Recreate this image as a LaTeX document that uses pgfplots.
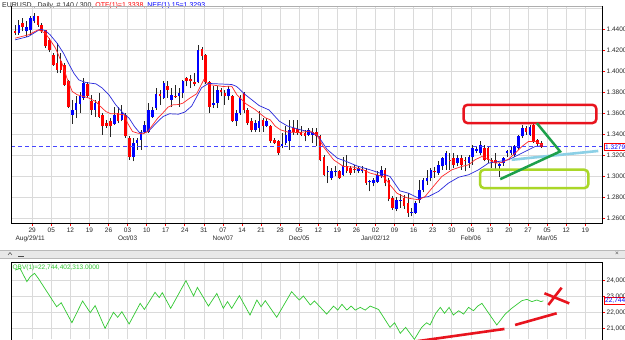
\documentclass[tikz,border=0pt]{standalone}
\usepackage{fontspec}
\setmainfont{Liberation Sans}
\usepackage{pgfplots}
\pgfplotsset{compat=1.18}
\usepackage{pgfplotstable}

\definecolor{candred}{RGB}{255,0,0}
\definecolor{candblue}{RGB}{0,0,255}
\definecolor{mared}{RGB}{255,40,40}
\definecolor{mablue}{RGB}{40,40,220}
\definecolor{gridgray}{RGB}{218,218,218}
\definecolor{lblgray}{RGB}{40,40,40}
\definecolor{dashblue}{RGB}{70,70,255}
\definecolor{annred}{RGB}{232,20,30}
\definecolor{annyg}{RGB}{170,215,40}
\definecolor{anngreen}{RGB}{30,160,75}
\definecolor{annlblue}{RGB}{140,208,230}
\definecolor{obvgreen}{RGB}{50,200,50}

\pgfplotstableread{
i O H L C
-5 1.4387 1.4441 1.4346 1.4368
-4 1.4362 1.4489 1.4346 1.4441
-3 1.4457 1.4505 1.4378 1.4425
-2 1.4378 1.4473 1.4330 1.4425
-1 1.4394 1.4521 1.4346 1.4505
0 1.4473 1.4552 1.4457 1.4527
1 1.4521 1.4527 1.4425 1.4441
2 1.4441 1.4457 1.4362 1.4378
3 1.4394 1.4394 1.4219 1.4235
4 1.4298 1.4314 1.4178 1.4203
5 1.4156 1.4171 1.4051 1.4060
6 1.4076 1.4267 1.3981 1.4013
7 1.4092 1.4171 1.3981 1.4013
8 1.4060 1.4076 1.3860 1.3870
9 1.3902 1.3917 1.3648 1.3663
10 1.3584 1.3727 1.3498 1.3632
11 1.3632 1.3759 1.3552 1.3695
12 1.3689 1.3806 1.3600 1.3759
13 1.3743 1.3933 1.3727 1.3886
14 1.3879 1.3892 1.3743 1.3759
15 1.3711 1.3775 1.3584 1.3632
16 1.3632 1.3727 1.3568 1.3695
17 1.3711 1.3790 1.3552 1.3568
18 1.3584 1.3600 1.3394 1.3473
19 1.3505 1.3537 1.3457 1.3479
20 1.3521 1.3552 1.3371 1.3473
21 1.3498 1.3663 1.3489 1.3584
22 1.3600 1.3663 1.3505 1.3521
23 1.3537 1.3679 1.3521 1.3600
24 1.3584 1.3600 1.3362 1.3378
25 1.3362 1.3378 1.3156 1.3187
26 1.3187 1.3362 1.3140 1.3314
27 1.3314 1.3362 1.3251 1.3346
28 1.3346 1.3441 1.3251 1.3425
29 1.3425 1.3521 1.3410 1.3489
30 1.3425 1.3695 1.3410 1.3632
31 1.3568 1.3663 1.3552 1.3632
32 1.3648 1.3838 1.3632 1.3784
33 1.3784 1.3822 1.3679 1.3759
34 1.3743 1.3902 1.3733 1.3886
35 1.3854 1.3902 1.3743 1.3822
36 1.3727 1.3838 1.3663 1.3775
37 1.3765 1.3870 1.3743 1.3752
38 1.3759 1.3838 1.3663 1.3790
39 1.3790 1.3917 1.3743 1.3902
40 1.3933 1.3949 1.3854 1.3902
41 1.3922 1.3965 1.3838 1.3910
42 1.3892 1.3981 1.3854 1.3879
43 1.3892 1.4251 1.3886 1.4203
44 1.4207 1.4230 1.4110 1.4143
45 1.4150 1.4165 1.3880 1.3900
46 1.3900 1.3910 1.3606 1.3663
47 1.3680 1.3854 1.3648 1.3700
48 1.3695 1.3854 1.3648 1.3822
49 1.3822 1.3838 1.3759 1.3806
50 1.3790 1.3822 1.3679 1.3759
51 1.3759 1.3854 1.3727 1.3829
52 1.3759 1.3775 1.3514 1.3521
53 1.3521 1.3632 1.3479 1.3606
54 1.3606 1.3775 1.3584 1.3743
55 1.3790 1.3806 1.3600 1.3632
56 1.3632 1.3648 1.3489 1.3505
57 1.3521 1.3552 1.3416 1.3441
58 1.3444 1.3537 1.3425 1.3505
59 1.3457 1.3616 1.3425 1.3521
60 1.3537 1.3552 1.3425 1.3479
61 1.3479 1.3552 1.3467 1.3521
62 1.3473 1.3489 1.3314 1.3330
63 1.3346 1.3362 1.3308 1.3314
64 1.3330 1.3346 1.3203 1.3219
65 1.3290 1.3410 1.3267 1.3305
66 1.3314 1.3473 1.3298 1.3394
67 1.3330 1.3537 1.3251 1.3441
68 1.3457 1.3537 1.3394 1.3425
69 1.3447 1.3537 1.3394 1.3410
70 1.3425 1.3473 1.3378 1.3394
71 1.3410 1.3441 1.3330 1.3380
72 1.3394 1.3457 1.3378 1.3441
73 1.3394 1.3457 1.3314 1.3425
74 1.3425 1.3457 1.3283 1.3378
75 1.3378 1.3394 1.3140 1.3156
76 1.3187 1.3203 1.2997 1.3013
77 1.3035 1.3092 1.2933 1.3050
78 1.2981 1.3076 1.2965 1.3045
79 1.3040 1.3092 1.2997 1.3050
80 1.3045 1.3060 1.2972 1.2981
81 1.3013 1.3187 1.2997 1.3092
82 1.3092 1.3203 1.3029 1.3045
83 1.3076 1.3092 1.3013 1.3029
84 1.3070 1.3108 1.3029 1.3060
85 1.3045 1.3098 1.3029 1.3076
86 1.3050 1.3092 1.3029 1.3070
87 1.3060 1.3076 1.2917 1.2933
88 1.2940 1.2965 1.2854 1.2950
89 1.2933 1.2981 1.2902 1.2965
90 1.2949 1.3045 1.2933 1.3013
91 1.2997 1.3092 1.2981 1.3060
92 1.3060 1.3076 1.2902 1.2933
93 1.2965 1.2981 1.2759 1.2781
94 1.2790 1.2810 1.2680 1.2700
95 1.2690 1.2800 1.2665 1.2775
96 1.2760 1.2830 1.2700 1.2775
97 1.2790 1.2820 1.2690 1.2720
98 1.2745 1.2835 1.2615 1.2650
99 1.2650 1.2700 1.2616 1.2660
100 1.2650 1.2760 1.2640 1.2740
101 1.2775 1.2965 1.2743 1.2870
102 1.2870 1.2985 1.2845 1.2965
103 1.2950 1.3060 1.2920 1.2985
104 1.2985 1.3076 1.2950 1.3060
105 1.3045 1.3090 1.2985 1.3035
106 1.3029 1.3140 1.3013 1.3108
107 1.3092 1.3187 1.3060 1.3171
108 1.3108 1.3235 1.3060 1.3219
109 1.3156 1.3219 1.3060 1.3140
110 1.3171 1.3219 1.3080 1.3108
111 1.3124 1.3203 1.3092 1.3171
112 1.3171 1.3203 1.3060 1.3108
113 1.3150 1.3180 1.3045 1.3140
114 1.3124 1.3203 1.3080 1.3187
115 1.3187 1.3298 1.3108 1.3267
116 1.3240 1.3290 1.3220 1.3255
117 1.3219 1.3330 1.3203 1.3298
118 1.3267 1.3298 1.3140 1.3156
119 1.3267 1.3283 1.3124 1.3156
120 1.3150 1.3171 1.3076 1.3130
121 1.3156 1.3219 1.3060 1.3124
122 1.3100 1.3124 1.2990 1.3115
123 1.3124 1.3187 1.3100 1.3171
124 1.3219 1.3251 1.3187 1.3235
125 1.3219 1.3283 1.3200 1.3251
126 1.3203 1.3298 1.3187 1.3283
127 1.3267 1.3394 1.3251 1.3378
128 1.3378 1.3489 1.3362 1.3457
129 1.3460 1.3473 1.3394 1.3420
130 1.3390 1.3490 1.3380 1.3470
131 1.3485 1.3500 1.3320 1.3335
132 1.3340 1.3350 1.3290 1.3310
133 1.3320 1.3335 1.3270 1.3279
}\candles

\newcommand{\tfont}{\fontsize{6.5}{7.5}\selectfont}
\newcommand{\cutlbl}[1]{\makebox[23pt][l]{#1}}

\begin{document}
\begin{tikzpicture}[x=1pt,y=1pt]
\clip (0,0) rectangle (625,340);
\fill[white] (0,0) rectangle (625,340);

% title
\node[anchor=west, inner sep=0, font=\fontsize{7}{8}\selectfont, text=lblgray] at (2,334)
  {EURUSD , Daily, \# 140 / 300, \textcolor{red}{OTF(1)=1.3338,} \textcolor{blue}{NEF(1) 15=1.3293}};

% main price panel
\begin{axis}[
  at={(3,111)}, anchor=south west, scale only axis,
  width=591pt, height=217pt,
  xmin=-5.95, xmax=149.0, ymin=1.25495, ymax=1.46162,
  axis line style={draw=none},
  clip mode=individual,
  xtick={-0.5,4.5,9.5,14.5,19.5,24.5,29.5,34.5,39.5,44.5,49.5,54.5,59.5,64.5,69.5,74.5,79.5,84.5,89.5,94.5,99.5,104.5,109.5,114.5,119.5,124.5,129.5,134.5,139.5,144.5},
  xticklabels={29,05,12,19,26,03,10,17,24,31,07,14,21,28,05,12,19,26,02,09,16,23,30,06,13,20,27,05,12,19},
  ytick={1.26,1.28,1.30,1.32,1.34,1.36,1.38,1.40,1.42,1.44},
  xtick pos=bottom, ytick pos=right, yticklabel pos=right,
  scaled y ticks=false,
  yticklabel style={/pgf/number format/fixed, /pgf/number format/fixed zerofill, /pgf/number format/precision=4, /pgf/number format/assume math mode=true, inner sep=1pt},
  xticklabel style={inner sep=1pt},
  ticklabel style={font=\tfont, text=lblgray},
  tick align=outside, major tick length=3pt,
  tick style={draw=red, line width=0.6pt},
  grid=major, major grid style={draw=gridgray, line width=0.7pt},
]
% extra grid line at 1.46
\addplot[gridgray, line width=0.7pt, forget plot] coordinates {(-5.95,1.46) (149,1.46)};
% wicks
\addplot[draw=none, mark=none, forget plot,
  error bars/.cd, y dir=plus, y explicit, error mark=none,
  error bar style={draw=black!85, line width=0.8pt}]
  table[x=i, y=L, y error plus expr={\thisrow{H}-\thisrow{L}}] {\candles};
% up bodies
\addplot[draw=none, mark=none, forget plot,
  error bars/.cd, y dir=plus, y explicit, error mark=none,
  error bar style={draw=candblue, line width=2.6pt}]
  table[x=i, y=O, y error plus expr={max(\thisrow{C}-\thisrow{O},0)}] {\candles};
% down bodies
\addplot[draw=none, mark=none, forget plot,
  error bars/.cd, y dir=plus, y explicit, error mark=none,
  error bar style={draw=candred, line width=2.6pt}]
  table[x=i, y=C, y error plus expr={max(\thisrow{O}-\thisrow{C},0)}] {\candles};

% NEF (blue MA)
\addplot[mablue, line width=0.7pt] coordinates {
(-5,1.4298) (-1.5,1.4330) (1.6,1.4400) (2.9,1.4387) (4.2,1.4346) (6,1.4267) (7.7,1.4171) (9,1.4076) (10.4,1.3981) (11.7,1.3917) (13.5,1.3892) (16.2,1.3879) (17.9,1.3838) (19.6,1.3775) (21.4,1.3679) (23.2,1.3606) (24.9,1.3552) (26.3,1.3473) (27.6,1.3416) (28.9,1.3410) (30.2,1.3435) (32,1.3505) (33.8,1.3568) (35.5,1.3594) (37.8,1.3590) (39.5,1.3610) (41.3,1.3667) (43.9,1.3842) (45.7,1.3883) (51.8,1.3873) (53.1,1.3854) (55.3,1.3778) (59,1.3672) (61.6,1.3630) (64.3,1.3523) (66.4,1.3478) (69.4,1.3446) (72.8,1.3415) (74.5,1.3380) (76.8,1.3255) (79.5,1.3171) (81.5,1.3145) (84.6,1.3098) (88.1,1.3060) (90.7,1.3029) (93.3,1.2997) (95.9,1.2860) (98.1,1.2838) (100.8,1.2790) (103.4,1.2806) (106,1.2854) (108.6,1.2933) (111.3,1.2990) (113.9,1.3013) (116.5,1.3060) (119.1,1.3124) (121.8,1.3140) (124.4,1.3156) (127,1.3203) (129.6,1.3251) (131.4,1.3283) (133.3,1.3289)};
% OTF (red MA)
\addplot[mared, line width=0.7pt] coordinates {
(-5,1.4314) (-1.5,1.4346) (1.1,1.4394) (2.9,1.4362) (4.2,1.4298) (5.6,1.4219) (7.3,1.4076) (8.6,1.3933) (10,1.3806) (11.3,1.3775) (13,1.3759) (14.4,1.3743) (16.1,1.3711) (17.4,1.3663) (18.8,1.3616) (20.1,1.3594) (21.4,1.3594) (23.6,1.3584) (24.5,1.3505) (25.8,1.3425) (27.1,1.3410) (28.5,1.3403) (29.8,1.3425) (31.1,1.3489) (32.4,1.3552) (33.7,1.3600) (35.1,1.3657) (36.4,1.3679) (37.8,1.3682) (39,1.3695) (40.8,1.3743) (42.6,1.3784) (44.5,1.3920) (45.7,1.3873) (49.6,1.3854) (51.8,1.3857) (53.1,1.3778) (55.5,1.3690) (57.9,1.3635) (59.1,1.3600) (60.6,1.3556) (61.9,1.3537) (63.2,1.3476) (64.6,1.3441) (66.5,1.3420) (69.5,1.3415) (72.4,1.3429) (74.1,1.3394) (75.8,1.3283) (78.5,1.3156) (81.1,1.3092) (83.7,1.3086) (86.3,1.3060) (88.1,1.3029) (89.8,1.3013) (91.6,1.2997) (93.3,1.2917) (95.1,1.2838) (96.8,1.2806) (98.1,1.2790) (100.8,1.2775) (102.5,1.2806) (104.3,1.2886) (106.9,1.2997) (109.5,1.3060) (112.1,1.3092) (113.9,1.3108) (115.6,1.3156) (117.4,1.3187) (119.1,1.3162) (120.9,1.3124) (122.6,1.3130) (124.4,1.3162) (126.1,1.3219) (127.9,1.3283) (129.6,1.3330) (131.4,1.3330) (132.7,1.3308) (133.3,1.3298)};

% current price line
\addplot[dashblue, line width=0.8pt, dash pattern=on 4pt off 3pt] coordinates {(-5.95,1.3279) (149,1.3279)};

% annotations
\draw[annred, line width=2.5pt, rounded corners=4pt] (axis cs:112.6,1.3505) rectangle (axis cs:147.4,1.3680);
\draw[annyg, line width=2.5pt, rounded corners=4pt] (axis cs:116.9,1.2886) rectangle (axis cs:145.3,1.3061);
\addplot[annlblue, line width=2.6pt] coordinates {(125.2,1.3156) (147.9,1.3240)};
\addplot[anngreen, line width=2.5pt] coordinates {(131.8,1.3505) (137.9,1.3235) (122.2,1.2971)};

% frame
\draw[gridgray!80!black, line width=0.6pt] (rel axis cs:0,1) -- (rel axis cs:1,1);
\draw[black, line width=1.1pt] (rel axis cs:0,1) -- (rel axis cs:0,0) -- (rel axis cs:1,0) -- (rel axis cs:1,1);

% price box
\node[draw=red, fill=white, text=blue, font=\tfont, inner sep=1pt, anchor=west, line width=0.6pt] at (axis cs:149.0,1.3279) [xshift=1.5pt] {1.3279};

% month labels
\node[font=\tfont, text=lblgray] at (axis cs:-0.5,1.25495) [yshift=-15pt, xshift=-2pt] {Aug/29/11};
\node[font=\tfont, text=lblgray] at (axis cs:24.5,1.25495) [yshift=-15pt] {Oct/03};
\node[font=\tfont, text=lblgray] at (axis cs:49.5,1.25495) [yshift=-15pt] {Nov/07};
\node[font=\tfont, text=lblgray] at (axis cs:69.5,1.25495) [yshift=-15pt] {Dec/05};
\node[font=\tfont, text=lblgray] at (axis cs:89.5,1.25495) [yshift=-15pt] {Jan/02/12};
\node[font=\tfont, text=lblgray] at (axis cs:114.5,1.25495) [yshift=-15pt] {Feb/06};
\node[font=\tfont, text=lblgray] at (axis cs:134.5,1.25495) [yshift=-15pt] {Mar/05};
\end{axis}

% separator strip
\fill[gray!18] (0,81.5) rectangle (625,90);
\draw[gray!55, line width=0.5pt] (0,90) -- (625,90);
\draw[gray!55, line width=0.5pt] (0,81.5) -- (625,81.5);
\draw[black!70, line width=0.5pt] (8,85) -- (10,87.5) -- (12,85);
\draw[black!70, line width=0.6pt] (18,84) -- (24,84);
\node[font=\tfont, text=black!70, inner sep=0] at (617,86) {×};

% OBV panel
\begin{axis}[
  at={(3,4)}, anchor=south west, scale only axis,
  width=591pt, height=77pt,
  xmin=-5.95, xmax=149.0, ymin=20.33, ymax=25.144,
  axis line style={draw=none},
  clip=false,
  xtick={-0.5,4.5,9.5,14.5,19.5,24.5,29.5,34.5,39.5,44.5,49.5,54.5,59.5,64.5,69.5,74.5,79.5,84.5,89.5,94.5,99.5,104.5,109.5,114.5,119.5,124.5,129.5,134.5,139.5,144.5},
  xticklabels={},
  xticklabel style={overlay, inner sep=0pt},
  ytick={21,22,23,24},
  yticklabels={{\cutlbl{21,000,000,000}},{\cutlbl{22,000,000,000}},{\cutlbl{23,000,000,000}},{\cutlbl{24,000,000,000}}},
  xtick pos=bottom, ytick pos=right, yticklabel pos=right,
  yticklabel style={inner sep=1pt, overlay},
  ticklabel style={font=\tfont, text=lblgray},
  tick align=outside, major tick length=3pt,
  x tick style={draw=none},
  y tick style={draw=red, line width=0.6pt},
  grid=major, major grid style={draw=gridgray, line width=0.7pt},
]
% vertical grid continues to the picture bottom
\addplot[obvgreen, line width=0.7pt] coordinates {
(-5.0,24.66) (-3.7,24.77) (-1.9,23.94) (-1.0,24.25) (0.1,24.46) (1.1,24.14) (4.2,23.0) (5.9,22.37) (7.1,22.62) (9.9,21.37) (12.7,22.73) (14.7,22.0) (16.0,22.44) (18.6,21.02) (20.8,22.02) (21.9,21.71) (23.0,22.06) (24.9,21.29) (27.8,22.58) (28.9,22.2) (31.7,23.27) (32.8,22.94) (33.6,23.25) (35.8,22.27) (39.8,24.0) (41.8,23.04) (42.8,23.58) (45.7,22.41) (47.9,23.2) (49.6,22.27) (50.7,22.69) (51.8,22.27) (53.8,23.06) (56.6,21.85) (58.4,22.79) (59.5,22.37) (60.6,22.75) (63.6,21.71) (67.5,23.31) (69.5,22.79) (70.6,23.04) (72.4,22.48) (73.5,22.73) (76.7,21.91) (78.5,22.41) (79.6,22.16) (80.7,22.52) (82.0,22.16) (83.1,22.41) (84.2,22.16) (85.5,22.33) (86.8,22.16) (88.1,22.41) (90.3,22.2) (93.3,21.08) (94.5,21.37) (96.0,20.71) (97.4,21.08) (99.7,20.33) (101.6,21.08) (102.9,21.37) (103.8,21.23) (105.3,21.96) (106.5,22.33) (107.6,21.96) (108.8,22.33) (109.9,21.85) (111.3,22.12) (112.6,21.91) (113.9,22.33) (115.2,22.12) (116.3,22.41) (117.4,22.58) (118.9,22.06) (121.3,21.23) (123.5,21.91) (125.2,22.27) (127.9,22.75) (129.2,22.83) (130.5,22.69) (131.8,22.79) (132.9,22.69) (133.5,22.74)};

% annotations
\addplot[annred, line width=2.6pt] coordinates {(99.7,20.19) (123.3,20.98)};
\addplot[annred, line width=2.6pt] coordinates {(126.1,21.23) (137.0,21.96)};
\addplot[annred, line width=2.6pt] coordinates {(133.8,23.21) (140.3,22.58)};
\addplot[annred, line width=2.6pt] coordinates {(134.8,22.48) (138.3,23.56)};

\draw[black, line width=1.1pt] (rel axis cs:0,-0.06) -- (rel axis cs:0,1) -- (rel axis cs:1,1) -- (rel axis cs:1,-0.06);
\draw[gridgray, line width=0.7pt] (axis cs:-5.95,20.08) -- (axis cs:-5.95,20.08);

\node[anchor=west, font=\tfont, text=obvgreen, inner sep=0] at (rel axis cs:0,1) [yshift=-5pt, xshift=1pt] {OBV(1)=22,744,402,313.0000};
\node[draw=red, fill=white, text=blue, font=\tfont, inner sep=1pt, anchor=west, line width=0.6pt] at (axis cs:149.0,22.744) [xshift=1.5pt] {22,744};
\end{axis}
\end{tikzpicture}
\end{document}
